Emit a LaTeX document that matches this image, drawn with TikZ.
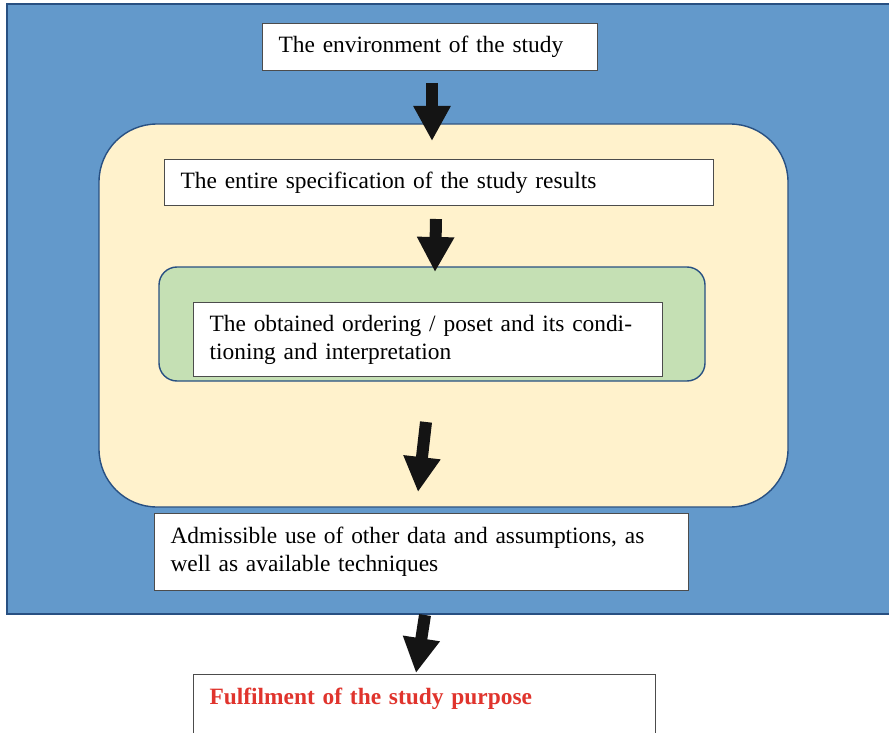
\documentclass[tikz,border=0pt]{standalone}
\usepackage{fontspec}
\setmainfont{Liberation Serif}
\usepackage{xcolor, tikz}
\usetikzlibrary{arrows.meta}
\definecolor{frameblue}{RGB}{99,153,203}
\definecolor{edgeblue}{RGB}{40,80,130}
\definecolor{phaseyellow}{RGB}{255,242,204}
\definecolor{innergreen}{RGB}{197,224,180}
\definecolor{goalred}{RGB}{224,52,45}
\newcommand{\boxfont}{\fontsize{23.4}{28}\selectfont}
\tikzstyle{frame} = [draw=edgeblue, line width=1.6pt, fill=frameblue]
\tikzstyle{phase} = [draw=edgeblue, line width=1.4pt, fill=phaseyellow, rounded corners=58pt]
\tikzstyle{inner} = [draw=edgeblue, line width=1.4pt, fill=innergreen, rounded corners=18pt]
\tikzstyle{textbox} = [rectangle, anchor=north west, draw=black!70, line width=1.2pt, fill=white, inner xsep=16pt, inner ysep=0pt, align=left, font=\boxfont]
\tikzstyle{arrow} = [line width=12pt, draw=black!92, -{Triangle[length=35pt, width=35pt]}]

\begin{document}
\begin{tikzpicture}[x=1pt, y=-1pt]
  \useasboundingbox (0,0) rectangle (889,733);
  \clip (0,0) rectangle (889,733);
  \fill[white] (0,0) rectangle (889,733);
  % containers
  \draw[frame] (7,4) rectangle (900,614);
  \draw[phase] (99,124) rectangle (788,507);
  \draw[inner] (159,267) rectangle (705,381);
  % boxes
  \node (env)[textbox, minimum width=335pt, minimum height=47pt, text width=303pt] at (262,23) {The environment of the study};
  \node (spec)[textbox, minimum width=549pt, minimum height=46pt, text width=517pt] at (164,159) {The entire specification of the study results};
  \node (order)[textbox, minimum width=469pt, minimum height=74pt, text width=437pt] at (193,302) {The obtained ordering / poset and its condi-\\tioning and interpretation};
  \node (use)[textbox, minimum width=534pt, minimum height=77pt, text width=502pt] at (154,513) {Admissible use of other data and assumptions, as\\well as available techniques};
  \node (goal)[textbox, minimum width=462pt, text width=430pt, text height=30pt, text depth=29pt, text=goalred, font=\boxfont\bfseries] at (193,674) {Fulfilment of the study purpose};
  % arrows
  \coordinate (a1s) at (432,83);
  \coordinate (a1e) at (432,141);
  \coordinate (a2s) at (436,219);
  \coordinate (a2e) at (435,272);
  \coordinate (a3s) at (426,422);
  \coordinate (a3e) at (418,492);
  \coordinate (a4s) at (425,615);
  \coordinate (a4e) at (416,673);
  \draw [arrow] (a1s) -- (a1e);
  \draw [arrow] (a2s) -- (a2e);
  \draw [arrow] (a3s) -- (a3e);
  \draw [arrow] (a4s) -- (a4e);
\end{tikzpicture}
\end{document}
